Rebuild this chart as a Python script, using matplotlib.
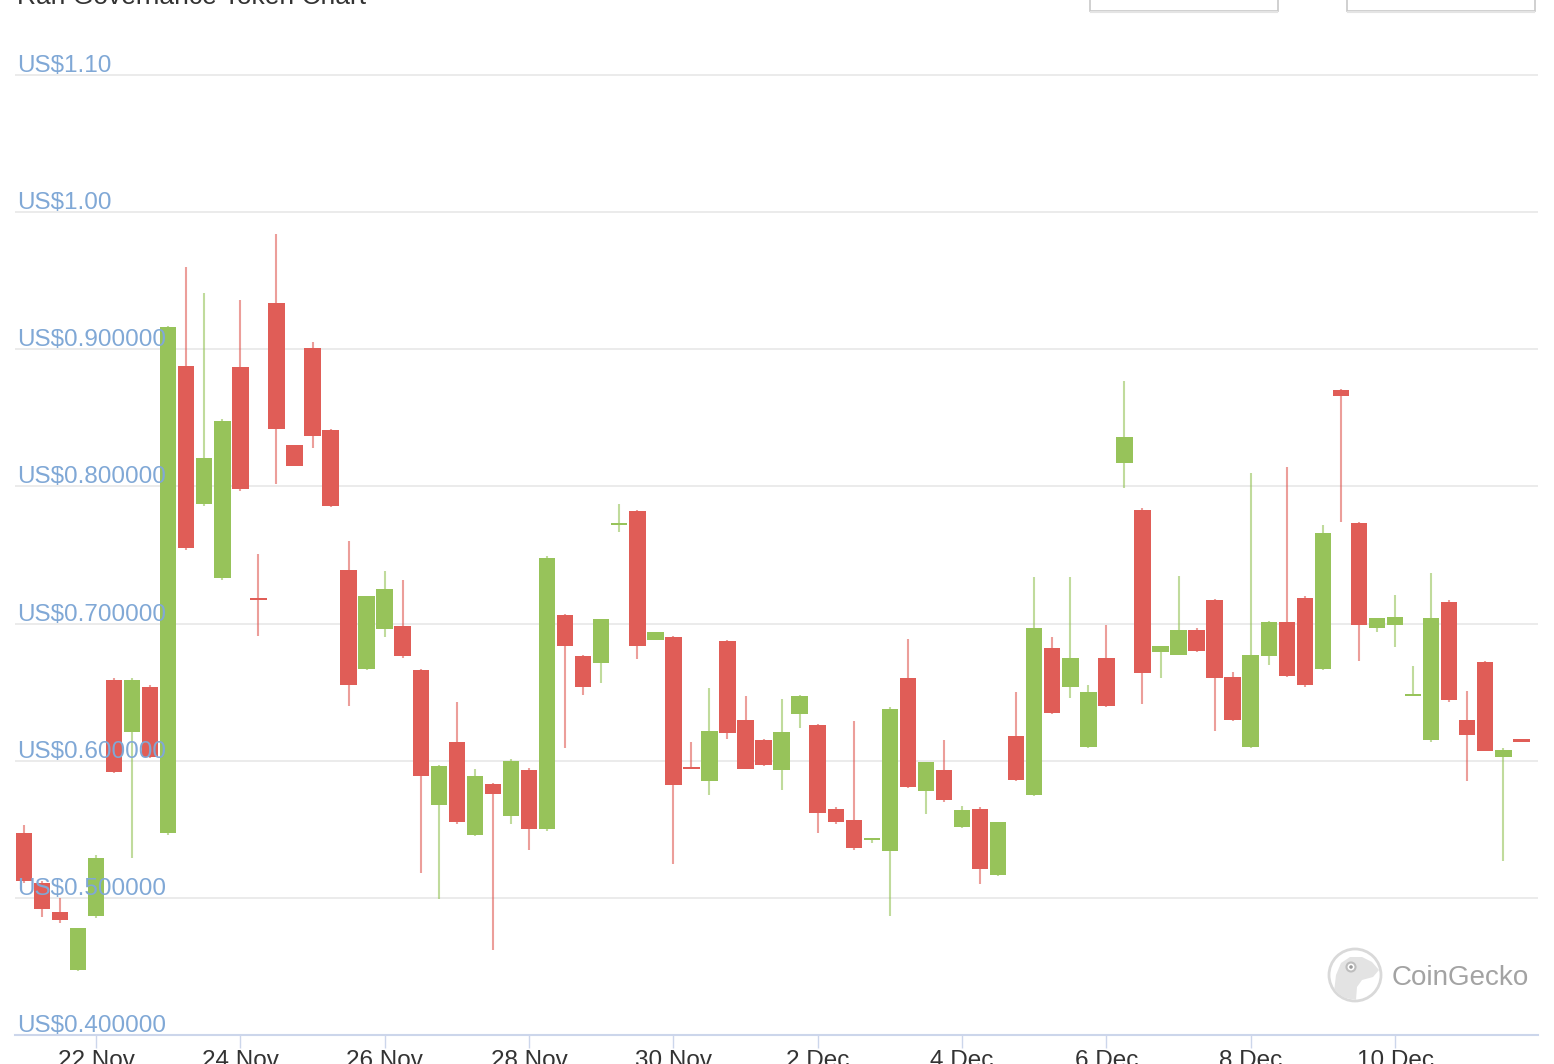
import matplotlib
matplotlib.use("Agg")
import matplotlib.pyplot as plt
import matplotlib.dates as mdates
import matplotlib.transforms as mtrans
from matplotlib.patches import Rectangle, Circle, Polygon
import numpy as np
import pandas as pd

plt.rcParams['font.family'] = ['Liberation Sans', 'DejaVu Sans']

# 6-hourly OHLC, 21 Nov -> 11 Dec
opens = [.547, .511, .490, .4475, .487, .659, .621, .654, .547, .888,
         .787, .733, .887, .718, .934, .830, .901, .841, .739, .667,
         .696, .698, .666, .568, .614, .546, .583, .560, .593, .550,
         .706, .676, .671, .772, .782, .688, .690, .595, .585, .687,
         .630, .615, .593, .634, .626, .565, .557, .542, .534, .660,
         .578, .593, .552, .565, .517, .618, .575, .682, .654, .610,
         .675, .817, .783, .679, .677, .695, .717, .661, .610, .676,
         .701, .719, .667, .870, .773, .697, .699, .647, .615, .716,
         .630, .672, .603, .615]
highs = [.553, .512, .500, .478, .531, .660, .660, .655, .917, .960,
         .941, .849, .936, .751, .984, .830, .905, .842, .760, .720,
         .738, .732, .667, .597, .643, .594, .584, .601, .595, .749,
         .707, .677, .703, .787, .783, .694, .691, .614, .653, .688,
         .647, .616, .645, .648, .627, .566, .629, .544, .639, .689,
         .599, .615, .567, .566, .555, .650, .734, .690, .734, .655,
         .699, .877, .784, .684, .735, .697, .718, .665, .810, .702,
         .814, .720, .772, .871, .774, .704, .721, .669, .737, .717,
         .651, .673, .609, .615]
lows = [.511, .486, .482, .447, .485, .591, .529, .602, .546, .754,
        .786, .732, .797, .691, .802, .815, .828, .785, .640, .666,
        .690, .675, .518, .499, .554, .545, .462, .554, .535, .549,
        .609, .648, .657, .767, .674, .688, .525, .594, .575, .616,
        .594, .596, .579, .624, .547, .554, .535, .540, .487, .580,
        .561, .570, .551, .510, .516, .585, .574, .634, .646, .609,
        .639, .799, .641, .660, .677, .679, .622, .629, .609, .670,
        .661, .654, .666, .774, .673, .694, .683, .647, .614, .643,
        .585, .607, .527, .614]
closes = [.512, .492, .484, .478, .529, .592, .659, .603, .916, .755,
          .821, .848, .798, .717, .842, .815, .837, .786, .655, .720,
          .725, .676, .589, .596, .555, .589, .576, .600, .550, .748,
          .684, .654, .703, .773, .684, .694, .582, .594, .622, .620,
          .594, .597, .621, .647, .562, .555, .536, .543, .638, .581,
          .599, .571, .564, .521, .555, .586, .697, .635, .675, .650,
          .640, .836, .664, .684, .695, .680, .660, .630, .677, .701,
          .662, .655, .766, .866, .699, .704, .705, .648, .704, .644,
          .619, .607, .608, .614]

y_ticks = [0.4, 0.5, 0.6, 0.7, 0.8, 0.9, 1.0, 1.1]
y_labels = ["US$0.400000", "US$0.500000", "US$0.600000", "US$0.700000",
            "US$0.800000", "US$0.900000", "US$1.00", "US$1.10"]
x_tick_dates = pd.date_range("2020-11-22", "2020-12-10", freq="2D")

times = pd.date_range("2020-11-21 00:00", periods=len(opens), freq="6h")
x = mdates.date2num(times)

RED, GREEN = "#e05d57", "#97c35a"
W, H = 1554, 1064
PX_DAY = 72.17

fig = plt.figure(figsize=(W / 100, H / 100), dpi=100)
ax = fig.add_axes([15 / W, 1 - 1035 / H, (1538 - 15) / W, (1035 - 40) / H])

o, hi, lo, c = map(np.array, (opens, highs, lows, closes))
cols = [GREEN if cc >= oo else RED for oo, cc in zip(o, c)]
ax.vlines(x, lo, hi, colors=cols, lw=1.5, alpha=0.6, zorder=2)
body_h = np.maximum(np.abs(c - o), 0.0015)
ax.bar(x, body_h, bottom=np.minimum(o, c), width=0.228, color=cols,
       linewidth=0, zorder=3)

d0 = mdates.date2num(pd.Timestamp("2020-11-22"))
ax.set_xlim(d0 - (96 - 15) / PX_DAY, d0 + (1538 - 96) / PX_DAY)
ax.set_ylim(0.4, 1.1 + 35 / 1371.4)

ax.set_yticks(y_ticks)
ax.yaxis.grid(True, color="#e6e6e6", lw=1.1)
ax.set_axisbelow(True)
ax.tick_params(axis="y", length=0, labelleft=False)
for s in ("top", "left", "right"):
    ax.spines[s].set_visible(False)
ax.spines["bottom"].set_color("#ccd6eb")
ax.spines["bottom"].set_linewidth(1.5)
ax.set_facecolor("white")

ax.set_xticks(mdates.date2num(x_tick_dates))
ax.set_xticklabels([f"{d.day} {d.strftime('%b')}" for d in x_tick_dates])
ax.tick_params(axis="x", length=9, width=1, color="#ccd6eb", pad=1.5,
               labelsize=17.5, labelcolor="#333333")

# price labels sit inside the plot, drawn over the candles
lab_tr = mtrans.offset_copy(ax.get_yaxis_transform(), fig=fig, x=2, y=3, units="dots")
for v, lab in zip(y_ticks, y_labels):
    ax.text(0, v, lab, transform=lab_tr, fontsize=17.5, color="#80a8d6",
            va="baseline", ha="left", zorder=5)

# overlay in pixel coords: cut-off header and watermark
ov = fig.add_axes([0, 0, 1, 1])
ov.set_xlim(0, W)
ov.set_ylim(H, 0)
ov.axis("off")
ov.patch.set_alpha(0)

ov.text(17, 4, "Rari Governance Token Chart", fontsize=19, color="#333333", va="baseline")
for bx in (1090, 1347):
    ov.add_patch(Rectangle((bx, -20), 188, 31, fc="white", ec="#c8c8c8", lw=1.2))
    ov.plot([bx + 1, bx + 187], [12, 12], color="#e4e4e4", lw=1.5)

ov.add_patch(Circle((1355, 975), 26, fc="white", ec="#d9d9d9", lw=2))
head = Polygon([(1334, 992), (1336, 975), (1341, 963), (1350, 957), (1362, 957),
                (1372, 962), (1379, 970), (1373, 977), (1362, 980), (1357, 987),
                (1356, 1000), (1345, 998)], closed=True, fc="#e3e3e3", ec="none")
ov.add_patch(head)
head.set_clip_path(Circle((1355, 975), 25, transform=ov.transData))
ov.add_patch(Circle((1351, 967), 4.5, fc="white", ec="#bdbdbd", lw=1.5))
ov.add_patch(Circle((1351, 967), 1.8, fc="#9a9a9a", ec="none"))
ov.text(1392, 985, "CoinGecko", fontsize=20, color="#a3a3a3", va="baseline")

fig.savefig("out.png", dpi=100, facecolor="white")
